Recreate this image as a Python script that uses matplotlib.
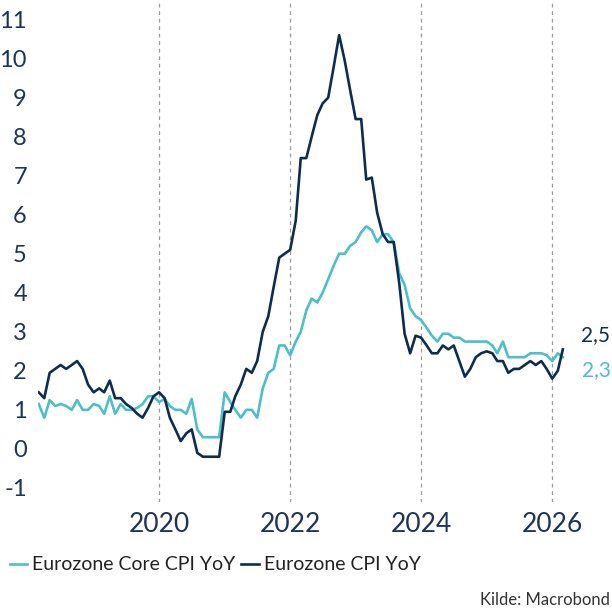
import pandas as pd
import matplotlib
matplotlib.use("Agg")
import matplotlib.pyplot as plt
import matplotlib.dates as mdates

# monthly data, Mar 2018 - Mar 2026
start = "2018-03-01"
cpi = [1.45, 1.3, 1.95, 2.05, 2.15, 2.05, 2.15, 2.25, 2.05, 1.65,
       1.45, 1.55, 1.45, 1.75, 1.3, 1.3, 1.15, 1.05, 0.9, 0.8, 1.05, 1.35,
       1.45, 1.3, 0.8, 0.5, 0.2, 0.4, 0.5, -0.1, -0.2, -0.2, -0.2, -0.2,
       0.95, 0.95, 1.35, 1.65, 2.05, 1.95, 2.25, 3.0, 3.4, 4.15, 4.9, 5.0,
       5.1, 5.85, 7.45, 7.45, 8.0, 8.55, 8.85, 9.0, 9.8, 10.6, 9.95, 9.2,
       8.45, 8.45, 6.9, 6.95, 6.05, 5.5, 5.3, 5.3, 4.25, 2.95, 2.45, 2.9,
       2.85, 2.65, 2.45, 2.45, 2.65, 2.55, 2.65, 2.25, 1.85, 2.05, 2.35, 2.45,
       2.5, 2.45, 2.25, 2.25, 1.95, 2.05, 2.05, 2.15, 2.25, 2.15, 2.25, 2.05,
       1.8, 2.0, 2.55]
core = [1.15, 0.8, 1.25, 1.1, 1.15, 1.1, 1.0, 1.25, 1.0, 1.0,
        1.15, 1.1, 0.9, 1.35, 0.9, 1.15, 1.0, 1.0, 1.05, 1.15, 1.35, 1.35,
        1.2, 1.28, 1.1, 1.0, 1.0, 0.9, 1.28, 0.5, 0.3, 0.3, 0.3, 0.3,
        1.45, 1.2, 1.0, 0.8, 1.0, 1.0, 0.8, 1.55, 1.95, 2.05, 2.65, 2.65,
        2.4, 2.75, 3.0, 3.55, 3.85, 3.75, 4.0, 4.35, 4.7, 5.0, 5.0, 5.2,
        5.3, 5.55, 5.7, 5.6, 5.3, 5.5, 5.5, 5.3, 4.5, 4.2, 3.6, 3.4,
        3.3, 3.1, 2.9, 2.75, 2.95, 2.95, 2.85, 2.85, 2.75, 2.75, 2.75, 2.75,
        2.75, 2.65, 2.45, 2.75, 2.35, 2.35, 2.35, 2.35, 2.45, 2.45, 2.45, 2.4,
        2.25, 2.45, 2.35]
labels = ["Eurozone Core CPI YoY", "Eurozone CPI YoY"]
end_labels = ["2,3", "2,5"]
yticks = list(range(-1, 12))
xyears = ["2020", "2022", "2024", "2026"]

dates = pd.date_range(start, periods=len(cpi), freq="MS")

teal = "#4dbfc8"
navy = "#0e2d4e"
ticktxt = "#1d3459"

plt.rcParams["font.family"] = ["Lato", "DejaVu Sans"]
plt.rcParams["axes.unicode_minus"] = False

fig = plt.figure(figsize=(6.12, 6.10), dpi=100)
ax = fig.add_axes([38 / 612, 1 - 502 / 610, (575 - 38) / 612, 502 / 610])

ax.plot(dates, core, color=teal, lw=1.9, label=labels[0])
ax.plot(dates, cpi, color=navy, lw=1.9, label=labels[1])

ax.set_ylim(-1.36, 11.5)
ax.set_xlim(pd.Timestamp("2018-02-25"), pd.Timestamp("2026-05-08"))
ax.set_yticks(yticks)
ax.set_xticks([pd.Timestamp(y + "-01-01") for y in xyears])
ax.xaxis.set_major_formatter(mdates.DateFormatter("%Y"))

for s in ax.spines.values():
    s.set_visible(False)
ax.tick_params(axis="both", length=0, colors=ticktxt, labelsize=17)
ax.tick_params(axis="x", pad=7, labelsize=19)
ax.tick_params(axis="y", pad=8)
ax.grid(axis="x", color="#9a9a9a", lw=0.9, linestyle=(0, (3, 3)))
ax.grid(axis="y", visible=False)

# end value labels
ax.annotate(end_labels[1], xy=(dates[-1], cpi[-1]), xytext=(18, 14),
            textcoords="offset pixels", color=navy, fontsize=15,
            va="center", ha="left", annotation_clip=False)
ax.annotate(end_labels[0], xy=(dates[-1], core[-1]), xytext=(19, -13),
            textcoords="offset pixels", color=teal, fontsize=15,
            va="center", ha="left", annotation_clip=False)

fig.legend(loc="center left", bbox_to_anchor=(0.0, 1 - 565 / 610), ncol=2,
           frameon=False, fontsize=14, handlelength=0.9, handletextpad=0.25,
           columnspacing=0.3, borderaxespad=0.1, labelcolor="#222222")

fig.text(0.997, 0.016, "Kilde: Macrobond", ha="right", va="center",
         fontsize=12, color="#333333")

fig.savefig("out.png", dpi=100)
